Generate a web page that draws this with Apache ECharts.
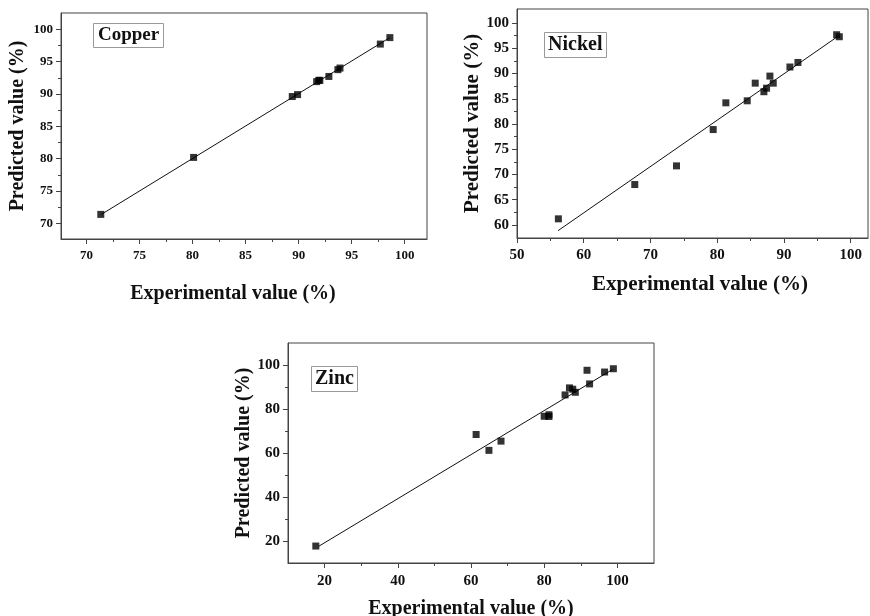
<!DOCTYPE html>
<html>
<head>
<meta charset="utf-8">
<script src="https://cdn.jsdelivr.net/npm/echarts@6/dist/echarts.min.js"></script>
<style>
html,body{margin:0;padding:0;background:#fff;}
#chart{width:870px;height:616px;}
</style>
</head>
<body>
<div id="chart"></div>
<script>
// ---- Data ----
const copperExp  = [71.35, 80.1, 89.4, 89.9, 91.7, 91.9, 92.0, 92.85, 93.7, 93.9, 97.7, 98.6];
const copperPred = [71.4, 80.2, 89.6, 89.9, 91.9, 92.1, 92.1, 92.7, 93.75, 94.0, 97.7, 98.7];
const copperFitX = [71.4, 98.6];
const copperFitY = [71.4, 98.7];

const nickelExp  = [56.2, 67.65, 73.9, 79.4, 81.3, 84.5, 85.7, 87.0, 87.4, 87.9, 88.4, 90.9, 92.1, 97.9, 98.3];
const nickelPred = [61.2, 68.0, 71.7, 78.9, 84.2, 84.6, 88.1, 86.4, 87.1, 89.5, 88.1, 91.3, 92.2, 97.7, 97.3];
const nickelFitX = [56.15, 97.9];
const nickelFitY = [58.85, 97.2];

const zincExp  = [17.6, 61.4, 64.9, 68.2, 80.0, 81.3, 81.3, 85.7, 86.9, 87.8, 88.5, 91.7, 92.4, 96.5, 98.9];
const zincPred = [17.7, 68.4, 61.2, 65.4, 76.7, 77.4, 76.6, 86.4, 89.6, 89.0, 87.6, 97.6, 91.4, 96.8, 98.3];
const zincFitX = [18.4, 98.6];
const zincFitY = [17.6, 97.9];

// ---- Tick labels ----
const copperXTicks = [70, 75, 80, 85, 90, 95, 100];
const copperXMinor = [72.5, 77.5, 82.5, 87.5, 92.5, 97.5];
const copperYTicks = [70, 75, 80, 85, 90, 95, 100];
const copperYMinor = [72.5, 77.5, 82.5, 87.5, 92.5, 97.5];

const nickelXTicks = [50, 60, 70, 80, 90, 100];
const nickelXMinor = [55, 65, 75, 85, 95];
const nickelYTicks = [60, 65, 70, 75, 80, 85, 90, 95, 100];
const nickelYMinor = [62.5, 67.5, 72.5, 77.5, 82.5, 87.5, 92.5, 97.5];

const zincXTicks = [20, 40, 60, 80, 100];
const zincXMinor = [30, 50, 70, 90];
const zincYTicks = [20, 40, 60, 80, 100];
const zincYMinor = [30, 50, 70, 90];

const xTitle = 'Experimental value (%)';
const yTitle = 'Predicted value (%)';

// ---- Build ----
const FONT = '"Liberation Serif", "Times New Roman", serif';
const AX = '#444';

function pairs(xs, ys) { return xs.map((v, i) => [v, ys[i]]); }

const panels = [
  { grid: {left: 61, top: 13, width: 366, height: 226},
    xr: [67.6, 102.1], yr: [67.6, 102.5],
    xt: copperXTicks, xm: copperXMinor, yt: copperYTicks, ym: copperYMinor,
    lab: 13, tit: 20, xMargin: 10, xGap: 45, yGap: 33, xPad: [0, 22, 0, 0], yPad: [0,0,0,0],
    pts: pairs(copperExp, copperPred), fit: pairs(copperFitX, copperFitY),
    name: 'Copper', box: {left: 93, top: 23, font: 19, pad: [3, 5]} },
  { grid: {left: 517, top: 9, width: 351, height: 229},
    xr: [50, 102.6], yr: [57.4, 102.8],
    xt: nickelXTicks, xm: nickelXMinor, yt: nickelYTicks, ym: nickelYMinor,
    lab: 15, tit: 21, xMargin: 10, xGap: 36, yGap: 33, xPad: [0, 0, 0, 15], yPad: [0,0,0,0],
    pts: pairs(nickelExp, nickelPred), fit: pairs(nickelFitX, nickelFitY),
    name: 'Nickel', box: {left: 544, top: 32, font: 20, pad: [3, 4]} },
  { grid: {left: 288, top: 343, width: 366, height: 220},
    xr: [10, 110], yr: [10, 110],
    xt: zincXTicks, xm: zincXMinor, yt: zincYTicks, ym: zincYMinor,
    lab: 15, tit: 20, xMargin: 11, xGap: 36, yGap: 33, xPad: [0,0,0,0], yPad: [0,0,0,0],
    pts: pairs(zincExp, zincPred), fit: pairs(zincFitX, zincFitY),
    name: 'Zinc', box: {left: 311, top: 366, font: 20, pad: [3, 4]} }
];

const grid = [], xAxis = [], yAxis = [], series = [], title = [];

panels.forEach((p, gi) => {
  grid.push(Object.assign({show: true, borderColor: AX, borderWidth: 1, backgroundColor: 'transparent',
    containLabel: false, outerBoundsMode: 'none'}, p.grid));
  const xi = xAxis.length, yi = yAxis.length;
  // major x
  xAxis.push({
    type: 'value', gridIndex: gi, position: 'bottom', min: p.xr[0], max: p.xr[1],
    axisLine: {show: true, lineStyle: {color: AX, width: 1}},
    axisTick: {show: true, length: 5, customValues: p.xt, lineStyle: {color: AX}},
    axisLabel: {show: true, customValues: p.xt, margin: p.xMargin, color: '#111',
      fontFamily: FONT, fontWeight: 'bold', fontSize: p.lab},
    splitLine: {show: false},
    name: xTitle, nameLocation: 'middle', nameGap: p.xGap,
    nameTextStyle: {fontFamily: FONT, fontWeight: 'bold', fontSize: p.tit, color: '#111', padding: p.xPad}
  });
  // minor x
  xAxis.push({
    type: 'value', gridIndex: gi, position: 'bottom', min: p.xr[0], max: p.xr[1],
    axisLine: {show: false},
    axisTick: {show: true, length: 3, customValues: p.xm, lineStyle: {color: AX}},
    axisLabel: {show: false}, splitLine: {show: false}
  });
  // major y
  yAxis.push({
    type: 'value', gridIndex: gi, position: 'left', min: p.yr[0], max: p.yr[1],
    axisLine: {show: true, lineStyle: {color: AX, width: 1}},
    axisTick: {show: true, length: 5, customValues: p.yt, lineStyle: {color: AX}},
    axisLabel: {show: true, customValues: p.yt, margin: 8, color: '#111',
      fontFamily: FONT, fontWeight: 'bold', fontSize: p.lab},
    splitLine: {show: false},
    name: yTitle, nameLocation: 'middle', nameGap: p.yGap,
    nameTextStyle: {fontFamily: FONT, fontWeight: 'bold', fontSize: p.tit, color: '#111', padding: p.yPad}
  });
  // minor y
  yAxis.push({
    type: 'value', gridIndex: gi, position: 'left', min: p.yr[0], max: p.yr[1],
    axisLine: {show: false},
    axisTick: {show: true, length: 3, customValues: p.ym, lineStyle: {color: AX}},
    axisLabel: {show: false}, splitLine: {show: false}
  });

  series.push({
    type: 'line', xAxisIndex: xi, yAxisIndex: yi, data: p.fit,
    symbol: 'none', lineStyle: {color: '#111', width: 1}, silent: true, z: 2, animation: false
  });
  series.push({
    type: 'scatter', xAxisIndex: xi, yAxisIndex: yi, data: p.pts,
    symbol: 'rect', symbolSize: 7, itemStyle: {color: '#000'}, z: 3, animation: false
  });

  title.push({
    text: p.name, left: p.box.left, top: p.box.top,
    borderColor: '#999', borderWidth: 1, padding: p.box.pad,
    textStyle: {fontFamily: FONT, fontWeight: 'bold', fontSize: p.box.font, color: '#111', lineHeight: p.box.font}
  });
});

const chart = echarts.init(document.getElementById('chart'), null, {renderer: 'canvas'});
chart.setOption({
  backgroundColor: '#fff',
  animation: false,
  title, grid, xAxis, yAxis, series
});
</script>
</body>
</html>
